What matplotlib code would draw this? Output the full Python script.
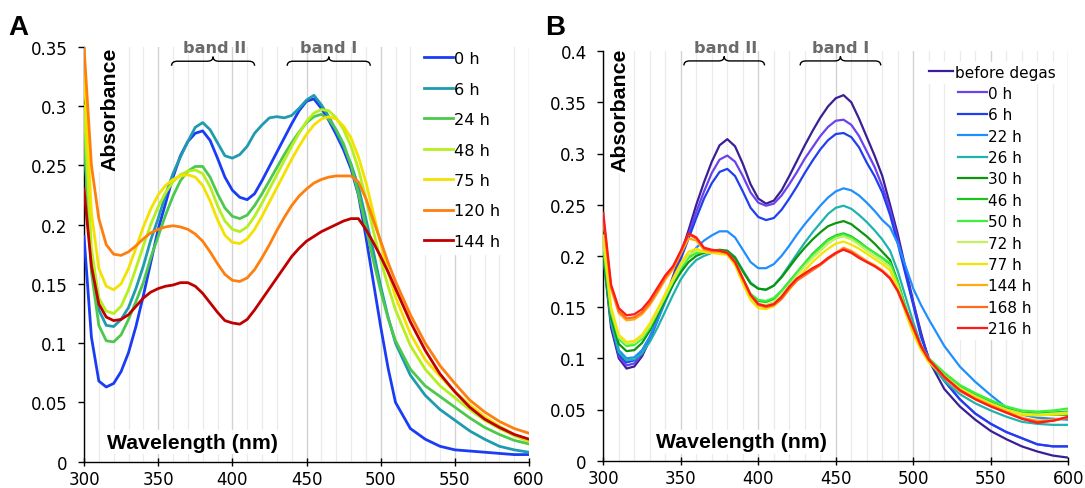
import matplotlib
matplotlib.use("Agg")
import matplotlib.pyplot as plt
from matplotlib import transforms
from matplotlib.path import Path
from matplotlib.patches import PathPatch
from matplotlib.ticker import FuncFormatter

plt.rcParams['font.family'] = ['DejaVu Sans']
BOLD = ['Liberation Sans', 'DejaVu Sans']

# wavelength sampling (nm)
wl = list(range(300, 511, 5)) + list(range(520, 601, 10))

# ---- panel A : absorbance per time point ----
a_labels = ['0 h', '6 h', '24 h', '48 h', '75 h', '120 h', '144 h']
a_colors = ['#1a3cf5', '#1f9bb0', '#4cc94c', '#b6ef1e', '#f5e100', '#ff7f0e', '#c00000']

a_0h = [0.190, 0.105, 0.068, 0.063, 0.066, 0.076, 0.092, 0.114, 0.140, 0.168,
        0.196, 0.218, 0.240, 0.258, 0.270, 0.277, 0.279, 0.271, 0.256, 0.240,
        0.229, 0.223, 0.221, 0.226, 0.237, 0.249, 0.261, 0.273, 0.285, 0.296,
        0.304, 0.306, 0.298, 0.288, 0.276, 0.263, 0.247, 0.225, 0.190, 0.152,
        0.114, 0.079, 0.050,
        0.028, 0.019, 0.013, 0.010, 0.009, 0.008, 0.007, 0.006, 0.006]
a_6h = [0.270, 0.170, 0.128, 0.115, 0.114, 0.120, 0.130, 0.146, 0.165, 0.187,
        0.205, 0.225, 0.243, 0.257, 0.270, 0.282, 0.286, 0.280, 0.269, 0.258,
        0.256, 0.259, 0.266, 0.277, 0.284, 0.290, 0.291, 0.290, 0.292, 0.298,
        0.305, 0.309, 0.301, 0.291, 0.279, 0.266, 0.251, 0.232, 0.205, 0.178,
        0.148, 0.122, 0.100,
        0.073, 0.056, 0.044, 0.035, 0.026, 0.019, 0.013, 0.010, 0.008]
a_24h = [0.280, 0.160, 0.115, 0.102, 0.101, 0.107, 0.120, 0.135, 0.151, 0.172,
         0.190, 0.208, 0.224, 0.237, 0.245, 0.249, 0.249, 0.240, 0.226, 0.214,
         0.207, 0.205, 0.208, 0.216, 0.226, 0.237, 0.248, 0.259, 0.269, 0.278,
         0.286, 0.291, 0.293, 0.289, 0.280, 0.268, 0.250, 0.226, 0.198, 0.170,
         0.144, 0.121, 0.102,
         0.078, 0.064, 0.055, 0.046, 0.037, 0.029, 0.023, 0.018, 0.015]
a_48h = [0.300, 0.180, 0.138, 0.127, 0.125, 0.131, 0.145, 0.163, 0.182, 0.200,
         0.215, 0.227, 0.236, 0.242, 0.245, 0.246, 0.243, 0.232, 0.216, 0.203,
         0.196, 0.194, 0.198, 0.207, 0.218, 0.230, 0.242, 0.254, 0.266, 0.277,
         0.287, 0.294, 0.297, 0.296, 0.290, 0.280, 0.266, 0.247, 0.222, 0.195,
         0.170, 0.148, 0.128,
         0.098, 0.078, 0.064, 0.054, 0.044, 0.035, 0.028, 0.022, 0.017]
a_75h = [0.330, 0.210, 0.163, 0.148, 0.145, 0.150, 0.163, 0.180, 0.198, 0.213,
         0.225, 0.233, 0.238, 0.241, 0.242, 0.240, 0.233, 0.220, 0.204, 0.191,
         0.185, 0.184, 0.188, 0.196, 0.207, 0.219, 0.231, 0.243, 0.255, 0.266,
         0.276, 0.284, 0.289, 0.291, 0.289, 0.283, 0.273, 0.257, 0.236, 0.210,
         0.184, 0.160, 0.139,
         0.108, 0.086, 0.072, 0.059, 0.048, 0.038, 0.030, 0.023, 0.018]
a_120h = [0.350, 0.250, 0.205, 0.183, 0.175, 0.174, 0.177, 0.182, 0.188, 0.193,
          0.196, 0.198, 0.199, 0.198, 0.196, 0.192, 0.186, 0.177, 0.167, 0.158,
          0.153, 0.152, 0.155, 0.162, 0.172, 0.183, 0.195, 0.206, 0.216, 0.224,
          0.230, 0.235, 0.238, 0.240, 0.241, 0.241, 0.241, 0.236, 0.222, 0.204,
          0.186, 0.168, 0.152,
          0.124, 0.100, 0.081, 0.066, 0.052, 0.042, 0.034, 0.028, 0.024]
a_144h = [0.230, 0.165, 0.133, 0.122, 0.119, 0.120, 0.124, 0.131, 0.138, 0.143,
          0.146, 0.148, 0.149, 0.151, 0.151, 0.148, 0.142, 0.134, 0.126, 0.119,
          0.117, 0.116, 0.120, 0.128, 0.137, 0.146, 0.155, 0.164, 0.173, 0.180,
          0.186, 0.190, 0.194, 0.197, 0.200, 0.203, 0.205, 0.205, 0.196, 0.185,
          0.173, 0.160, 0.146,
          0.118, 0.094, 0.074, 0.059, 0.046, 0.036, 0.029, 0.023, 0.019]
a_series = [a_0h, a_6h, a_24h, a_48h, a_75h, a_120h, a_144h]

# ---- panel B ----
b_labels = ['before degas', '0 h', '6 h', '22 h', '26 h', '30 h', '46 h', '50 h',
            '72 h', '77 h', '144 h', '168 h', '216 h']
b_colors = ['#3a1f94', '#6a42ee', '#1f3ff0', '#1f8fff', '#1fb3ad', '#0b960b',
            '#1cc41c', '#3cf03c', '#c3f062', '#f5e400', '#ffab12', '#ff6b1e', '#ff1a1a']

b_bd = [0.200, 0.130, 0.100, 0.090, 0.092, 0.102, 0.118, 0.138, 0.158, 0.180,
        0.202, 0.225, 0.250, 0.272, 0.292, 0.308, 0.314, 0.307, 0.290, 0.270,
        0.256, 0.251, 0.254, 0.264, 0.278, 0.293, 0.308, 0.322, 0.335, 0.346,
        0.354, 0.357, 0.350, 0.334, 0.316, 0.298, 0.278, 0.250, 0.221, 0.188,
        0.155, 0.125, 0.098,
        0.070, 0.053, 0.040, 0.029, 0.021, 0.014, 0.009, 0.005, 0.003]
b_0h = [0.210, 0.135, 0.102, 0.093, 0.095, 0.104, 0.119, 0.137, 0.157, 0.178,
        0.199, 0.221, 0.243, 0.263, 0.281, 0.294, 0.298, 0.292, 0.278, 0.262,
        0.252, 0.249, 0.251, 0.259, 0.270, 0.282, 0.295, 0.306, 0.317, 0.326,
        0.332, 0.333, 0.328, 0.317, 0.302, 0.287, 0.268, 0.245, 0.216, 0.184,
        0.153, 0.122, 0.100,
        0.078, 0.060, 0.046, 0.036, 0.028, 0.022, 0.016, 0.014, 0.014]
b_6h = [0.210, 0.135, 0.104, 0.096, 0.098, 0.107, 0.121, 0.138, 0.157, 0.177,
        0.197, 0.217, 0.237, 0.256, 0.271, 0.282, 0.285, 0.278, 0.263, 0.247,
        0.238, 0.235, 0.237, 0.245, 0.256, 0.268, 0.281, 0.293, 0.304, 0.313,
        0.319, 0.320, 0.316, 0.306, 0.291, 0.278, 0.262, 0.240, 0.212, 0.182,
        0.152, 0.121, 0.100,
        0.078, 0.060, 0.046, 0.036, 0.028, 0.022, 0.016, 0.014, 0.014]
b_22h = [0.210, 0.140, 0.108, 0.100, 0.101, 0.108, 0.121, 0.137, 0.155, 0.172,
         0.187, 0.199, 0.208, 0.215, 0.220, 0.224, 0.224, 0.218, 0.206, 0.194,
         0.188, 0.188, 0.192, 0.200, 0.210, 0.221, 0.231, 0.240, 0.249, 0.257,
         0.263, 0.266, 0.264, 0.259, 0.252, 0.244, 0.235, 0.228, 0.212, 0.190,
         0.168, 0.152, 0.138,
         0.112, 0.092, 0.077, 0.064, 0.052, 0.045, 0.042, 0.041, 0.040]
b_26h = [0.200, 0.135, 0.106, 0.098, 0.099, 0.105, 0.116, 0.130, 0.146, 0.162,
         0.177, 0.188, 0.196, 0.200, 0.203, 0.205, 0.205, 0.199, 0.186, 0.174,
         0.168, 0.167, 0.171, 0.180, 0.191, 0.202, 0.213, 0.223, 0.232, 0.241,
         0.247, 0.249, 0.246, 0.240, 0.233, 0.225, 0.216, 0.205, 0.185, 0.160,
         0.135, 0.113, 0.097,
         0.078, 0.065, 0.056, 0.049, 0.043, 0.038, 0.036, 0.035, 0.035]
b_30h = [0.200, 0.140, 0.114, 0.107, 0.108, 0.115, 0.127, 0.142, 0.157, 0.172,
         0.184, 0.194, 0.200, 0.203, 0.205, 0.206, 0.205, 0.198, 0.185, 0.173,
         0.168, 0.167, 0.171, 0.179, 0.189, 0.199, 0.208, 0.216, 0.223, 0.229,
         0.232, 0.234, 0.231, 0.225, 0.219, 0.212, 0.204, 0.196, 0.175, 0.150,
         0.127, 0.110, 0.097,
         0.082, 0.071, 0.063, 0.056, 0.050, 0.046, 0.045, 0.045, 0.045]
b_46h = [0.210, 0.145, 0.120, 0.113, 0.114, 0.120, 0.131, 0.146, 0.161, 0.176,
         0.189, 0.199, 0.203, 0.204, 0.204, 0.204, 0.202, 0.193, 0.176, 0.162,
         0.156, 0.155, 0.158, 0.166, 0.175, 0.184, 0.193, 0.202, 0.209, 0.216,
         0.220, 0.222, 0.219, 0.214, 0.208, 0.203, 0.198, 0.192, 0.172, 0.148,
         0.126, 0.110, 0.098,
         0.084, 0.072, 0.064, 0.057, 0.051, 0.047, 0.046, 0.047, 0.048]
b_50h = [0.210, 0.145, 0.119, 0.112, 0.113, 0.119, 0.130, 0.145, 0.160, 0.175,
         0.188, 0.198, 0.203, 0.204, 0.204, 0.204, 0.203, 0.194, 0.178, 0.163,
         0.157, 0.156, 0.159, 0.166, 0.175, 0.184, 0.193, 0.201, 0.208, 0.215,
         0.219, 0.221, 0.218, 0.213, 0.208, 0.203, 0.198, 0.193, 0.174, 0.150,
         0.128, 0.112, 0.100,
         0.086, 0.074, 0.066, 0.059, 0.053, 0.049, 0.048, 0.049, 0.051]
b_72h = [0.215, 0.148, 0.121, 0.114, 0.115, 0.121, 0.132, 0.146, 0.161, 0.176,
         0.190, 0.201, 0.205, 0.204, 0.203, 0.203, 0.202, 0.193, 0.176, 0.160,
         0.153, 0.152, 0.155, 0.162, 0.171, 0.181, 0.190, 0.198, 0.205, 0.212,
         0.217, 0.219, 0.216, 0.211, 0.205, 0.200, 0.195, 0.189, 0.170, 0.146,
         0.125, 0.109, 0.097,
         0.083, 0.071, 0.063, 0.056, 0.050, 0.046, 0.045, 0.046, 0.047]
b_77h = [0.220, 0.150, 0.123, 0.116, 0.117, 0.123, 0.134, 0.148, 0.163, 0.178,
         0.193, 0.204, 0.207, 0.204, 0.203, 0.202, 0.201, 0.191, 0.173, 0.157,
         0.149, 0.148, 0.151, 0.158, 0.167, 0.177, 0.186, 0.194, 0.201, 0.207,
         0.212, 0.214, 0.211, 0.207, 0.202, 0.197, 0.192, 0.186, 0.168, 0.144,
         0.124, 0.108, 0.096,
         0.082, 0.070, 0.062, 0.055, 0.049, 0.045, 0.044, 0.045, 0.046]
b_144h = [0.235, 0.168, 0.144, 0.137, 0.138, 0.143, 0.152, 0.164, 0.177, 0.187,
          0.202, 0.217, 0.215, 0.206, 0.204, 0.204, 0.202, 0.193, 0.177, 0.161,
          0.152, 0.150, 0.152, 0.159, 0.168, 0.176, 0.182, 0.187, 0.192, 0.198,
          0.203, 0.208, 0.205, 0.200, 0.195, 0.191, 0.186, 0.179, 0.166, 0.148,
          0.130, 0.112, 0.099,
          0.082, 0.069, 0.061, 0.054, 0.048, 0.042, 0.039, 0.040, 0.042]
b_168h = [0.238, 0.170, 0.146, 0.139, 0.140, 0.145, 0.154, 0.166, 0.179, 0.189,
          0.204, 0.221, 0.217, 0.207, 0.205, 0.205, 0.203, 0.194, 0.178, 0.162,
          0.152, 0.150, 0.152, 0.158, 0.168, 0.176, 0.181, 0.186, 0.191, 0.197,
          0.202, 0.207, 0.204, 0.199, 0.194, 0.190, 0.185, 0.178, 0.165, 0.147,
          0.129, 0.111, 0.098,
          0.081, 0.068, 0.060, 0.053, 0.047, 0.041, 0.038, 0.039, 0.042]
b_216h = [0.242, 0.172, 0.149, 0.142, 0.143, 0.148, 0.157, 0.169, 0.181, 0.190,
          0.205, 0.222, 0.218, 0.208, 0.206, 0.205, 0.203, 0.194, 0.178, 0.162,
          0.153, 0.151, 0.153, 0.160, 0.170, 0.178, 0.183, 0.188, 0.192, 0.198,
          0.203, 0.206, 0.203, 0.198, 0.194, 0.190, 0.185, 0.178, 0.166, 0.148,
          0.130, 0.112, 0.099,
          0.082, 0.069, 0.060, 0.053, 0.047, 0.041, 0.037, 0.039, 0.043]
b_series = [b_bd, b_0h, b_6h, b_22h, b_26h, b_30h, b_46h, b_50h,
            b_72h, b_77h, b_144h, b_168h, b_216h]

x_ticks = [300, 350, 400, 450, 500, 550, 600]
grid_minor = list(range(310, 601, 10))


def brace(ax, x0, x1, y, h):
    # over-brace drawn in data x / axes y
    tr = transforms.blended_transform_factory(ax.transData, ax.transAxes)
    xm = (x0 + x1) / 2.
    r = (x1 - x0) * 0.07
    verts = [(x0, y - h), (x0, y), (x0 + r, y),
             (xm - r, y), (xm, y), (xm, y + h),
             (xm, y), (xm + r, y),
             (x1 - r, y), (x1, y), (x1, y - h)]
    codes = [Path.MOVETO, Path.CURVE3, Path.CURVE3, Path.LINETO, Path.CURVE3, Path.CURVE3,
             Path.CURVE3, Path.CURVE3, Path.LINETO, Path.CURVE3, Path.CURVE3]
    ax.add_patch(PathPatch(Path(verts, codes), transform=tr, fill=False,
                           lw=1.0, color='black', clip_on=False, zorder=5))


def style_axes(ax, ymax, ystep):
    ax.set_xlim(300, 600)
    ax.set_ylim(0, ymax)
    ax.set_xticks(x_ticks)
    ax.set_xticks(grid_minor, minor=True)
    n = int(round(ymax / ystep))
    ax.set_yticks([i * ystep for i in range(n + 1)])
    ax.yaxis.set_major_formatter(FuncFormatter(lambda v, p: '%g' % round(v, 3)))
    ax.grid(True, which='minor', axis='x', color='#ebebeb', lw=0.9, zorder=0)
    ax.grid(True, which='major', axis='x', color='#d2d2d2', lw=1.0, zorder=0)
    ax.set_axisbelow(True)
    for s in ['top', 'right']:
        ax.spines[s].set_visible(False)
    ax.spines['left'].set_linewidth(1.0)
    ax.spines['bottom'].set_linewidth(1.0)
    ax.tick_params(axis='both', which='major', labelsize=12, width=1, colors='black')
    ax.tick_params(axis='x', which='major', direction='inout', length=6, pad=3)
    ax.tick_params(axis='y', which='major', direction='out', length=4, pad=8)
    ax.tick_params(axis='x', which='minor', length=0)


def white_frame(leg):
    fr = leg.get_frame()
    fr.set_facecolor('white')
    fr.set_edgecolor('white')
    fr.set_alpha(1)


fig = plt.figure(figsize=(10.85, 4.89), dpi=100)
axA = fig.add_axes([84/1085, 26.3/489, 445/1085, 415/489])
axB = fig.add_axes([603.3/1085, 27.3/489, 465/1085, 409.6/489])

# ---- panel A ----
style_axes(axA, 0.35, 0.05)
linesA = []
for vals, c, lab in zip(a_series, a_colors, a_labels):
    ln, = axA.plot(wl, vals, color=c, lw=2.0, label=lab, zorder=3)
    linesA.append(ln)
legA = axA.legend(handles=linesA, loc='upper left', bbox_to_anchor=(0.753, 1.001),
                  fontsize=11.6, handlelength=1.8, handletextpad=0.08, labelspacing=0.96,
                  borderpad=0.3, borderaxespad=0, frameon=True, fancybox=False)
white_frame(legA)

axA.text(0.058, 1.0, 'Absorbance', transform=axA.transAxes, rotation=90, ha='center',
         va='top', fontsize=15.3, fontweight='bold', family=BOLD, zorder=4,
         bbox=dict(facecolor='white', edgecolor='none', pad=1.5))
axA.text(0.051, 0.047, 'Wavelength (nm)', transform=axA.transAxes, ha='left',
         va='center', fontsize=15.3, fontweight='bold', family=BOLD, zorder=4,
         bbox=dict(facecolor='white', edgecolor='none', pad=2))
trA = transforms.blended_transform_factory(axA.transData, axA.transAxes)
axA.text(388, 0.998, 'band II', transform=trA, ha='center', va='center', fontsize=11.6,
         fontweight='bold', color='#6b6b6b')
axA.text(465, 0.998, 'band I', transform=trA, ha='center', va='center', fontsize=11.6,
         fontweight='bold', color='#6b6b6b')
brace(axA, 359, 415, 0.965, 0.011)
brace(axA, 437, 493, 0.965, 0.011)

# ---- panel B ----
style_axes(axB, 0.4, 0.05)
linesB = []
for vals, c, lab in zip(b_series, b_colors, b_labels):
    ln, = axB.plot(wl, vals, color=c, lw=1.6, label=lab, zorder=3)
    linesB.append(ln)
legB1 = axB.legend(handles=linesB[:1], loc='upper left', bbox_to_anchor=(0.694, 0.974),
                   fontsize=11, handlelength=1.57, handletextpad=0.15,
                   borderpad=0.2, borderaxespad=0, frameon=True, fancybox=False)
white_frame(legB1)
axB.add_artist(legB1)
legB2 = axB.legend(handles=linesB[1:], loc='upper left', bbox_to_anchor=(0.756, 0.923),
                   fontsize=11, handlelength=1.9, handletextpad=0.08, labelspacing=0.42,
                   borderpad=0.2, borderaxespad=0, frameon=True, fancybox=False)
white_frame(legB2)

axB.text(0.036, 1.008, 'Absorbance', transform=axB.transAxes, rotation=90, ha='center',
         va='top', fontsize=15.3, fontweight='bold', family=BOLD, zorder=4,
         bbox=dict(facecolor='white', edgecolor='none', pad=1.5))
axB.text(0.113, 0.046, 'Wavelength (nm)', transform=axB.transAxes, ha='left',
         va='center', fontsize=15.3, fontweight='bold', family=BOLD, zorder=4,
         bbox=dict(facecolor='white', edgecolor='none', pad=2))
trB = transforms.blended_transform_factory(axB.transData, axB.transAxes)
axB.text(379, 1.01, 'band II', transform=trB, ha='center', va='center', fontsize=11.6,
         fontweight='bold', color='#6b6b6b')
axB.text(453, 1.01, 'band I', transform=trB, ha='center', va='center', fontsize=11.6,
         fontweight='bold', color='#6b6b6b')
brace(axB, 352, 404, 0.976, 0.011)
brace(axB, 427, 479, 0.976, 0.011)

fig.text(0.008, 0.942, 'A', fontsize=20, fontweight='bold', family=BOLD, va='center', ha='left')
fig.text(0.502, 0.942, 'B', fontsize=20, fontweight='bold', family=BOLD, va='center', ha='left')

fig.savefig('out.png', dpi=100)
